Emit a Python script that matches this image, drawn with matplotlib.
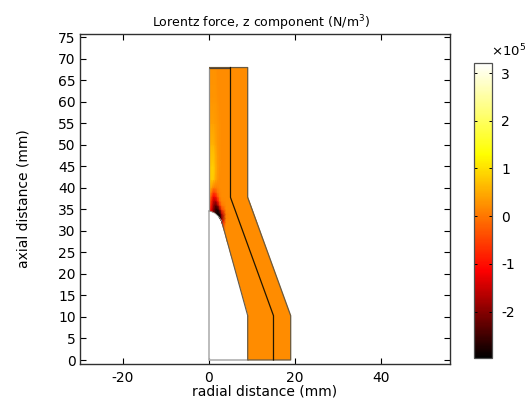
#!/usr/bin/env python3
"""Lorentz force z component, axisymmetric surface plot"""

import matplotlib
matplotlib.use('Agg')
import matplotlib.pyplot as plt
from matplotlib.colors import LinearSegmentedColormap, Normalize
from matplotlib.patches import Polygon
import numpy as np

plt.rcParams['axes.unicode_minus'] = False
plt.rcParams['font.family'] = 'DejaVu Sans'

# geometry in mm (r, z)
outer_r = [0, 5, 9, 9, 19, 19, 9, 9, 2.9, 2.2, 1.4, 0.7, 0]
outer_z = [68, 68, 68, 37.8, 10.3, 0, 0, 10.3, 32.4, 33.4, 34.1, 34.45, 34.6]
split_r = [5, 5, 15, 15]
split_z = [68, 37.8, 10.3, 0]
axis_r = [9, 0, 0]
axis_z = [0, 0, 34.6]

# field values, units 1e5 N/m^3
field_r = [0, 0.5, 1, 1.5, 2, 2.5, 3, 4, 5, 19]
field_z = [0, 30, 32, 33, 34, 35, 36, 37, 38, 39, 40, 42, 45, 50, 55, 60, 68]
field_v = [
    [0.2, 0.2, 0.2, 0.2, 0.2, 0.2, 0.2, 0.2, 0.2, 0.2],
    [0.2, 0.2, 0.2, 0.2, 0.2, 0.2, 0.2, 0.2, 0.2, 0.2],
    [-1.5, -1.5, -1.5, -2.0, -2.5, -2.4, -1.2, 0.2, 0.2, 0.2],
    [-1.5, -1.8, -2.2, -2.5, -2.8, -2.9, -2.0, 0.1, 0.2, 0.2],
    [-0.9, -1.4, -2.2, -2.6, -2.9, -2.9, -1.6, 0.1, 0.2, 0.2],
    [-0.7, -1.2, -2.0, -2.6, -2.8, -1.9, -0.5, 0.2, 0.2, 0.2],
    [-0.3, -0.9, -1.8, -2.3, -1.9, -0.7, 0.0, 0.2, 0.2, 0.2],
    [0.0, -0.7, -1.5, -1.7, -1.0, -0.1, 0.15, 0.2, 0.2, 0.2],
    [0.2, -0.3, -1.1, -1.0, -0.4, 0.1, 0.2, 0.2, 0.2, 0.2],
    [0.4, 0.1, -0.5, -0.4, 0.0, 0.15, 0.2, 0.2, 0.2, 0.2],
    [0.6, 0.4, 0.0, 0.0, 0.1, 0.2, 0.2, 0.2, 0.2, 0.2],
    [0.7, 0.8, 0.8, 0.5, 0.3, 0.2, 0.2, 0.2, 0.2, 0.2],
    [0.7, 0.8, 0.85, 0.6, 0.35, 0.25, 0.2, 0.2, 0.2, 0.2],
    [0.5, 0.6, 0.6, 0.45, 0.3, 0.25, 0.2, 0.2, 0.2, 0.2],
    [0.35, 0.4, 0.4, 0.35, 0.3, 0.25, 0.2, 0.2, 0.2, 0.2],
    [0.3, 0.3, 0.3, 0.3, 0.25, 0.2, 0.2, 0.2, 0.2, 0.2],
    [0.25, 0.25, 0.25, 0.25, 0.2, 0.2, 0.2, 0.2, 0.2, 0.2],
]
vmin = -2.97
vmax = 3.21

x_ticks = [-20, 0, 20, 40]
y_ticks = list(range(0, 80, 5))
cbar_ticks = [-2, -1, 0, 1, 2, 3]

W, H = 531, 400
fig = plt.figure(figsize=(W / 100, H / 100), dpi=100)
ax = fig.add_axes([80 / W, 1 - 364 / H, 370 / W, 330 / H])
cax = fig.add_axes([474 / W, 1 - 358 / H, 18 / W, 295 / H])

def cstop(v):
    return (v - vmin) / (vmax - vmin)

cmap = LinearSegmentedColormap.from_list('thermal', [
    (0, '#000000'),
    (cstop(-1.13), '#ff0000'),
    (cstop(1.3), '#ffff00'),
    (1, '#ffffff'),
])
norm = Normalize(vmin, vmax)

rr, zz = np.meshgrid(field_r, field_z)
mesh = ax.pcolormesh(rr, zz, np.array(field_v), shading='gouraud', cmap=cmap, norm=norm, zorder=1)
clip = Polygon(np.column_stack([outer_r, outer_z]), closed=True, transform=ax.transData, fc='none', ec='none')
ax.add_patch(clip)
mesh.set_clip_path(clip)

ax.plot(axis_r, axis_z, color='#b0b0b0', linewidth=1.2, zorder=2)
ax.plot(outer_r[:8], outer_z[:8], color='#6a5a40', linewidth=0.9, zorder=3, solid_capstyle='butt')
ax.plot(outer_r[7:9], outer_z[7:9], color='#605a50', linewidth=0.8, zorder=3)
ax.plot(outer_r[8:], outer_z[8:], color='#a0a098', linewidth=0.6, zorder=3)
ax.plot([0, 0], [34.6, 68], color='#909090', linewidth=0.9, zorder=3, solid_capstyle='butt')
ax.plot([0, 5], [68, 68], color='#504030', linewidth=0.9, zorder=3, solid_capstyle='butt')
ax.plot(split_r, split_z, color='#201500', linewidth=0.9, zorder=4)

ax.set_xlim(-30, 56.05)
ax.set_ylim(-0.93, 75.8)
ax.set_xticks(x_ticks)
ax.set_yticks(y_ticks)
ax.tick_params(direction='in', top=True, right=True, length=4.5, width=0.8, labelsize=10, pad=3)
ax.tick_params(axis='x', pad=5)
ax.set_title('Lorentz force, z component (N/m$^3$)', fontsize=9, pad=5, x=0.49)
ax.set_xlabel('radial distance (mm)', fontsize=10, labelpad=-0.5)
ax.set_ylabel('axial distance (mm)', fontsize=10, labelpad=20)
for s in ax.spines.values():
    s.set_linewidth(1.0)
    s.set_color('#303030')

cb = fig.colorbar(mesh, cax=cax, ticks=cbar_ticks)
cb.ax.tick_params(direction='in', left=True, right=True, length=2, width=0.7, labelsize=10, pad=6.5)
cb.ax.tick_params(labelright=True)
cb.outline.set_linewidth(0.9)
cb.outline.set_edgecolor('#505050')
fig.text(491 / W, 1 - 59 / H, r'$\times$10$^5$', fontsize=9.5, va='bottom', ha='left')

fig.savefig('out.png', dpi=100)
